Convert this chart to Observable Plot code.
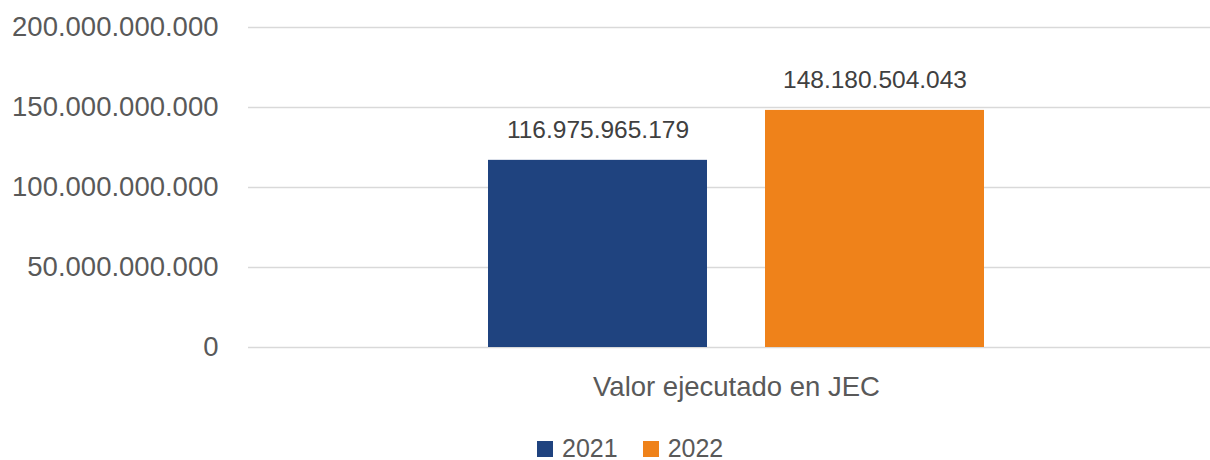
<!DOCTYPE html>
<html>
<head>
<meta charset="utf-8">
<script src="https://cdn.jsdelivr.net/npm/d3@7"></script>
<script src="https://cdn.jsdelivr.net/npm/@observablehq/plot@0.6"></script>
<style>
  html, body { margin: 0; padding: 0; background: #fff; }
  body { font-family: "Liberation Sans", Arial, sans-serif; }
  #legend { margin-left: 537px; margin-top: 22px; display: flex; }
  #legend div { font-size: 25px; color: #595959; font-family: "Liberation Sans", Arial, sans-serif; }
  #legend svg { margin-right: 9px !important; }
</style>
</head>
<body>
<div id="chart"></div>
<div id="legend"></div>
<script>
const years = ["2021", "2022"];
const values = [116975965179, 148180504043];
const colors = ["#1F437F", "#EF821A"];
const category = "Valor ejecutado en JEC";
const yTicks = [0, 50000000000, 100000000000, 150000000000, 200000000000];

const locale = d3.formatLocale({decimal: ",", thousands: ".", grouping: [3], currency: ["$", ""]});
const fmt = locale.format(",d");

const data = years.map((y, i) => ({year: y, value: values[i]}));

const W = 1210, H = 410;
const plot = Plot.plot({
  width: W,
  height: H,
  marginLeft: 248,
  marginRight: 0,
  marginTop: 27,
  marginBottom: 63,
  style: {fontFamily: "'Liberation Sans', Arial, sans-serif", background: "#fff"},
  x: {domain: years, range: [487, 985], paddingInner: 0.2086, paddingOuter: 0, axis: null},
  y: {domain: [0, 200000000000], axis: null},
  color: {domain: years, range: colors},
  marks: [
    Plot.ruleY(yTicks, {stroke: "#d9d9d9", strokeWidth: 1.5}),
    Plot.barY(data, {x: "year", y: "value", fill: "year"}),
    Plot.text(yTicks, {
      y: d => d, text: d => fmt(d), frameAnchor: "left", textAnchor: "end", dx: -30,
      fontSize: 27.5, fill: "#595959"
    }),
    Plot.text(data, {
      x: "year", y: "value", text: d => fmt(d.value), dy: -30, lineAnchor: "middle",
      fontSize: 24.5, fill: "#404040"
    }),
    Plot.text([category], {
      text: d => d, frameAnchor: "bottom", lineAnchor: "middle", dy: 40, dx: 7,
      fontSize: 27.5, fill: "#595959"
    })
  ]
});
document.getElementById("chart").appendChild(plot);

const legend = plot.legend("color", {swatchSize: 16, swatchWidth: 16, swatchHeight: 16});
document.getElementById("legend").appendChild(legend);
</script>
</body>
</html>
